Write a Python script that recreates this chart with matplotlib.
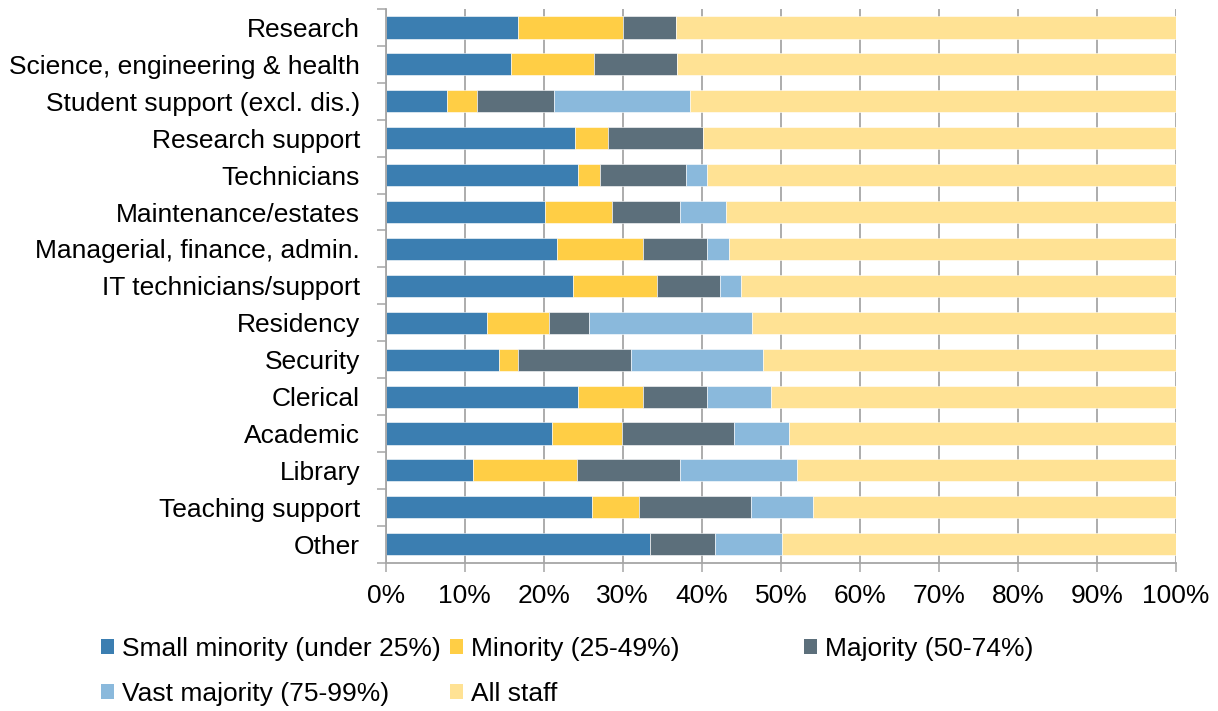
import matplotlib
matplotlib.use("Agg")
import matplotlib.pyplot as plt
import numpy as np
from matplotlib.patches import Patch
from matplotlib.ticker import FixedLocator, FuncFormatter

plt.rcParams['font.family'] = ['Liberation Sans', 'DejaVu Sans']

categories = [
    "Research", "Science, engineering & health", "Student support (excl. dis.)",
    "Research support", "Technicians", "Maintenance/estates",
    "Managerial, finance, admin.", "IT technicians/support", "Residency",
    "Security", "Clerical", "Academic", "Library", "Teaching support", "Other",
]
small_minority = [16.7, 15.8, 7.8, 24.0, 24.3, 20.1, 21.7, 23.7, 12.8, 14.3, 24.3, 21.1, 11.1, 26.1, 33.4]
minority       = [13.3, 10.6, 3.7, 4.1, 2.8, 8.5, 10.8, 10.6, 7.8, 2.4, 8.2, 8.8, 13.1, 6.0, 0.0]
majority       = [6.7, 10.5, 9.8, 12.0, 10.9, 8.6, 8.1, 8.0, 5.1, 14.3, 8.1, 14.2, 13.0, 14.1, 8.3]
vast_majority  = [0.0, 0.0, 17.2, 0.0, 2.6, 5.8, 2.8, 2.6, 20.6, 16.8, 8.2, 6.9, 14.8, 7.9, 8.5]
all_staff = [round(100 - a - b - c - d, 1) for a, b, c, d in
             zip(small_minority, minority, majority, vast_majority)]

series_names = ["Small minority (under 25%)", "Minority (25-49%)", "Majority (50-74%)",
                "Vast majority (75-99%)", "All staff"]
series_values = [small_minority, minority, majority, vast_majority, all_staff]
colors = ["#3B7EB1", "#FFCE45", "#5C6F7B", "#8AB9DC", "#FFE294"]
x_ticks = list(range(0, 101, 10))

FS = 19
grid_col = "#A6A6A6"

fig = plt.figure(figsize=(12.18, 7.11), dpi=100)
ax = fig.add_axes([385.7 / 1218, 1 - 562.7 / 711, (1176 - 385.7) / 1218, (562.7 - 9) / 711])

y = np.arange(len(categories))
left = np.zeros(len(categories))
for name, vals, col in zip(series_names, series_values, colors):
    vals = np.array(vals)
    ax.barh(y, vals, left=left, height=0.6, color=col, edgecolor="white",
            linewidth=0.4, label=name, zorder=2)
    left += vals

ax.set_xlim(0, 100)
ax.set_ylim(len(categories) - 0.5, -0.5)
ax.set_yticks(y)
ax.set_yticklabels(categories, fontsize=FS)
ax.yaxis.set_minor_locator(FixedLocator(np.arange(-0.5, len(categories), 1.0)))
ax.tick_params(axis="y", which="major", length=0, pad=18.5)
ax.tick_params(axis="y", which="minor", length=6.5, width=1.1, color=grid_col, direction="out")

ax.set_xticks(x_ticks)
ax.xaxis.set_major_formatter(FuncFormatter(lambda v, p: f"{int(v)}%"))
ax.tick_params(axis="x", which="major", length=6.5, width=1.1, color=grid_col,
               labelsize=FS, pad=8.5)

ax.grid(axis="x", color=grid_col, linewidth=1.3, zorder=0)
ax.set_axisbelow(True)
for s in ["top", "right"]:
    ax.spines[s].set_visible(False)
for s in ["left", "bottom"]:
    ax.spines[s].set_color(grid_col)
    ax.spines[s].set_linewidth(1.3)

# legend entries (Excel-style fixed column positions)
leg_pos = [(101, 649), (450, 649), (804, 649), (101, 694), (450, 694)]
for (px, py), name, col in zip(leg_pos, series_names, colors):
    fig.legend(handles=[Patch(facecolor=col, edgecolor="none")], labels=[name],
               loc="center left", bbox_to_anchor=(px / 1218, 1 - py / 711),
               bbox_transform=fig.transFigure, frameon=False, fontsize=FS,
               handlelength=0.5, handleheight=0.5, handletextpad=0.28,
               borderpad=0, borderaxespad=0)

fig.savefig("out.png", dpi=100)
